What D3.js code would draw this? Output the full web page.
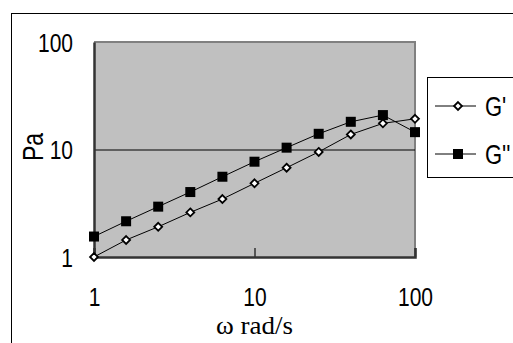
<!DOCTYPE html>
<html>
<head>
<meta charset="utf-8">
<script src="https://cdn.jsdelivr.net/npm/d3@7"></script>
<style>
  body { margin: 0; background: #fff; }
  svg { display: block; }
</style>
</head>
<body>
<div id="chart"></div>
<script>
// frequency points (rad/s) and moduli (Pa)
var omega = [1, 1.585, 2.512, 3.981, 6.31, 10, 15.85, 25.12, 39.81, 63.1, 100];
var gPrime = [1.0, 1.44, 1.91, 2.6, 3.46, 4.85, 6.77, 9.5, 13.8, 17.5, 19.3];
var gDouble = [1.55, 2.15, 2.94, 4.02, 5.58, 7.7, 10.4, 14.0, 18.1, 20.9, 14.5];
var seriesNames = ["G'", "G''"];
var xTicks = [1, 10, 100];
var yTicks = [1, 10, 100];

var W = 513, H = 343;
var plot = { left: 94, right: 415, top: 42, bottom: 257 };
var sans = "Liberation Sans, Arial, sans-serif";
var stretch = "scale(1,1.25)"; // the original text is a bit taller than wide

var svg = d3.select("#chart").append("svg")
    .attr("width", W)
    .attr("height", H);

// outer chart frame (runs off the right and bottom edge)
svg.append("rect")
    .attr("x", 11.5).attr("y", 13.5)
    .attr("width", 520).attr("height", 340)
    .attr("fill", "#fff")
    .attr("stroke", "#000")
    .attr("stroke-width", 1);

var x = d3.scaleLog().domain([1, 100]).range([plot.left, plot.right]);
var y = d3.scaleLog().domain([1, 100]).range([plot.bottom, plot.top]);

// plot area
svg.append("rect")
    .attr("x", plot.left).attr("y", plot.top)
    .attr("width", plot.right - plot.left)
    .attr("height", plot.bottom - plot.top)
    .attr("fill", "#c0c0c0");

// top + right border in gray
svg.append("path")
    .attr("d", "M" + plot.left + "," + plot.top + "H" + plot.right + "V" + plot.bottom)
    .attr("fill", "none")
    .attr("stroke", "#808080")
    .attr("stroke-width", 2);

// gridline at 10
svg.append("line")
    .attr("x1", plot.left).attr("x2", plot.right)
    .attr("y1", y(10) + 0.5).attr("y2", y(10) + 0.5)
    .attr("stroke", "#000").attr("stroke-width", 1);

// axes
var xAxis = d3.axisBottom(x).tickValues(xTicks).tickSize(-9).tickFormat(d3.format("d"));
var yAxis = d3.axisLeft(y).tickValues(yTicks).tickSize(0).tickFormat(d3.format("d"));

var gx = svg.append("g")
    .attr("transform", "translate(0," + plot.bottom + ")")
    .call(xAxis);
gx.select(".domain").attr("stroke", "#333").attr("stroke-width", 2.5);
gx.selectAll(".tick line").attr("stroke", "#333").attr("stroke-width", 1.5);
gx.selectAll(".tick text")
    .attr("y", 49 / 1.25).attr("dy", 0)
    .attr("transform", stretch)
    .style("font-family", sans)
    .style("font-size", "21px")
    .attr("fill", "#000");

var gy = svg.append("g")
    .attr("transform", "translate(" + plot.left + ",0)")
    .call(yAxis);
gy.select(".domain").attr("stroke", "#333").attr("stroke-width", 2.5);
gy.selectAll(".tick text")
    .attr("x", -21).attr("dy", "0.36em")
    .attr("transform", stretch)
    .style("font-family", sans)
    .style("font-size", "21px")
    .attr("fill", "#000");

// axis titles
svg.append("text")
    .attr("transform", "translate(43,147) rotate(-90) " + stretch)
    .attr("text-anchor", "middle")
    .style("font-family", sans)
    .style("font-size", "23px")
    .text("Pa");

svg.append("text")
    .attr("transform", "translate(" + x(10) + ",334) scale(1.08,1)")
    .attr("text-anchor", "middle")
    .style("font-family", "Liberation Serif, Times New Roman, serif")
    .style("font-size", "25px")
    .text("\u03c9 rad/s");

// series
var data1 = omega.map(function (d, i) { return [d, gPrime[i]]; });
var data2 = omega.map(function (d, i) { return [d, gDouble[i]]; });

var line = d3.line()
    .x(function (d) { return x(d[0]); })
    .y(function (d) { return y(d[1]); });

svg.append("path").datum(data1).attr("d", line)
    .attr("fill", "none").attr("stroke", "#000").attr("stroke-width", 1);
svg.append("path").datum(data2).attr("d", line)
    .attr("fill", "none").attr("stroke", "#000").attr("stroke-width", 1);

var diamond = d3.symbol().type(d3.symbolDiamond2).size(40);

svg.append("g").selectAll("path")
    .data(data1)
    .enter()
    .append("path")
    .attr("transform", function (d) { return "translate(" + x(d[0]) + "," + y(d[1]) + ")"; })
    .attr("d", diamond)
    .attr("fill", "#fff")
    .attr("stroke", "#000")
    .attr("stroke-width", 1.8);

svg.append("g").selectAll("rect")
    .data(data2)
    .enter()
    .append("rect")
    .attr("x", function (d) { return x(d[0]) - 5; })
    .attr("y", function (d) { return y(d[1]) - 5; })
    .attr("width", 10).attr("height", 10)
    .attr("fill", "#000");

// legend
var legend = svg.append("g");
legend.append("rect")
    .attr("x", 427.5).attr("y", 77.5)
    .attr("width", 100).attr("height", 100)
    .attr("fill", "#fff")
    .attr("stroke", "#000").attr("stroke-width", 1);

var legY = [106, 154];
seriesNames.forEach(function (name, i) {
    legend.append("line")
        .attr("x1", 435).attr("x2", 476)
        .attr("y1", legY[i]).attr("y2", legY[i])
        .attr("stroke", "#000");
    if (i === 0) {
        legend.append("path")
            .attr("transform", "translate(458," + legY[i] + ")")
            .attr("d", diamond)
            .attr("fill", "#fff").attr("stroke", "#000").attr("stroke-width", 1.8);
    } else {
        legend.append("rect")
            .attr("x", 453).attr("y", legY[i] - 5)
            .attr("width", 10).attr("height", 10)
            .attr("fill", "#000");
    }
    legend.append("text")
        .attr("transform", "translate(485," + legY[i] + ") " + stretch)
        .attr("dy", "0.36em")
        .style("font-family", sans)
        .style("font-size", "22px")
        .text(name);
});
</script>
</body>
</html>
